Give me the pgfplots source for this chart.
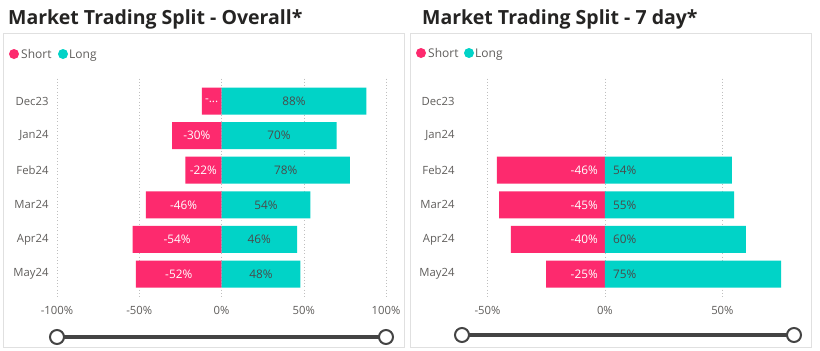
\documentclass[border=0pt]{standalone}
\usepackage{pgfplots}
\pgfplotsset{compat=1.18}
\usepackage{fontspec}
\setmainfont{Open Sans}
\definecolor{pinkc}{HTML}{FD2A6E}
\definecolor{tealc}{HTML}{01D3C7}
\definecolor{tickgray}{HTML}{605E5C}
\definecolor{titlec}{HTML}{252423}
\definecolor{valgray}{HTML}{4A4A4A}
\definecolor{slidec}{HTML}{444444}
\pgfplotsset{
  panelaxis/.style={
    scale only axis, anchor=south west, height=218pt,
    ymin=-0.65, ymax=5.65, y dir=reverse,
    ytick={0,1,2,3,4,5},
    yticklabels={Dec23,Jan24,Feb24,Mar24,Apr24,May24},
    xmajorgrids, major grid style={dash pattern=on 0.8pt off 2.5pt, black!25},
    axis line style={draw=none}, major tick length=0pt,
    tick label style={font=\fontsize{11.3}{12}\selectfont, text=tickgray},
    yticklabel style={xshift=-5pt},
    xticklabel style={yshift=-6pt},
    clip=false,
  },
  vallab/.style={only marks, mark=none, nodes near coords, point meta=explicit symbolic,
    nodes near coords style={font=\fontsize{11.8}{12}\selectfont, inner sep=0pt}},
}
\begin{document}
\begin{tikzpicture}[x=1pt,y=1pt]
\useasboundingbox (0,0) rectangle (820,-351);
\fill[white] (0,0) rectangle (820,-351);
\draw[black!12, fill=white] (3,-33) rectangle (404,-347);
\draw[black!12, fill=white] (410,-33) rectangle (811,-347);
\node[anchor=base west, inner sep=0pt, font=\bfseries\fontsize{19.5}{20}\selectfont, text=titlec] at (8,-24) {Market Trading Split - Overall*};
\node[anchor=base west, inner sep=0pt, font=\bfseries\fontsize{19.5}{20}\selectfont, text=titlec] at (422,-24) {Market Trading Split - 7 day*};
% legends
\fill[pinkc] (14,-54) circle (5);
\node[anchor=base west, inner sep=0pt, font=\fontsize{12}{12}\selectfont, text=tickgray] at (21,-58) {Short};
\fill[tealc] (63,-54) circle (5);
\node[anchor=base west, inner sep=0pt, font=\fontsize{12}{12}\selectfont, text=tickgray] at (69,-58) {Long};
\fill[pinkc] (421,-53) circle (5);
\node[anchor=base west, inner sep=0pt, font=\fontsize{12}{12}\selectfont, text=tickgray] at (428,-57) {Short};
\fill[tealc] (469,-53) circle (5);
\node[anchor=base west, inner sep=0pt, font=\fontsize{12}{12}\selectfont, text=tickgray] at (475,-57) {Long};
% left chart
\begin{axis}[panelaxis, at={(57pt,-296.5pt)}, width=329pt,
  xmin=-100, xmax=100,
  xtick={-100,-50,0,50,100}, xticklabels={-100\%,-50\%,0\%,50\%,100\%}]
\addplot[xbar, bar width=27pt, bar shift=0pt, fill=pinkc, draw=none]
  coordinates {(-12,0) (-30,1) (-22,2) (-46,3) (-54,4) (-52,5)};
\addplot[xbar, bar width=27pt, bar shift=0pt, fill=tealc, draw=none]
  coordinates {(88,0) (70,1) (78,2) (54,3) (46,4) (48,5)};
\addplot[vallab, nodes near coords style={text=white, anchor=center}]
  coordinates {(-6,0)[-...] (-15,1)[-30\%] (-11,2)[-22\%] (-23,3)[-46\%] (-27,4)[-54\%] (-26,5)[-52\%]};
\addplot[vallab, nodes near coords style={text=valgray, anchor=center}]
  coordinates {(44,0)[88\%] (35,1)[70\%] (39,2)[78\%] (27,3)[54\%] (23,4)[46\%] (24,5)[48\%]};
\end{axis}
% right chart
\begin{axis}[panelaxis, at={(463pt,-296.5pt)}, width=332pt,
  xmin=-60.4, xmax=80.9,
  xtick={-50,0,50}, xticklabels={-50\%,0\%,50\%}]
\addplot[xbar, bar width=27pt, bar shift=0pt, fill=pinkc, draw=none]
  coordinates {(-46,2) (-45,3) (-40,4) (-25,5)};
\addplot[xbar, bar width=27pt, bar shift=0pt, fill=tealc, draw=none]
  coordinates {(54,2) (55,3) (60,4) (75,5)};
\addplot[vallab, nodes near coords style={text=white, anchor=east, xshift=-7pt}]
  coordinates {(0,2)[-46\%] (0,3)[-45\%] (0,4)[-40\%] (0,5)[-25\%]};
\addplot[vallab, nodes near coords style={text=valgray, anchor=west, xshift=8pt}]
  coordinates {(0,2)[54\%] (0,3)[55\%] (0,4)[60\%] (0,5)[75\%]};
\end{axis}
% sliders
\draw[slidec, line width=3.5pt] (57,-337) -- (386,-337);
\draw[slidec, line width=2pt, fill=white] (57,-337) circle (7);
\draw[slidec, line width=2pt, fill=white] (386,-337) circle (7);
\draw[slidec, line width=3.5pt] (462,-335) -- (794,-335);
\draw[slidec, line width=2pt, fill=white] (462,-335) circle (7);
\draw[slidec, line width=2pt, fill=white] (794,-335) circle (7);
\end{tikzpicture}
\end{document}
